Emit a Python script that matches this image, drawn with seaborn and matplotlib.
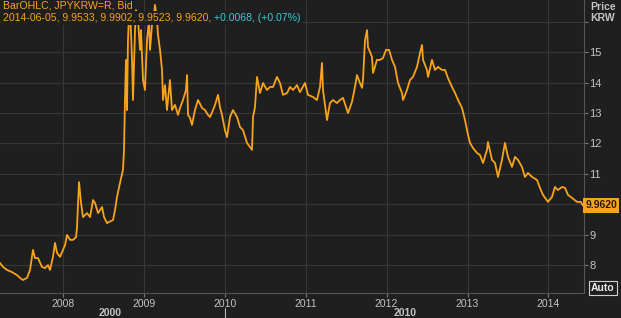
import matplotlib
matplotlib.use("Agg")
import matplotlib.pyplot as plt
from matplotlib.lines import Line2D
import seaborn as sns
import pandas as pd

# ---- data (decimal year, price in KRW per JPY) ----
dates = [
    2007.221, 2007.258, 2007.308, 2007.369, 2007.431, 2007.468, 2007.505, 2007.555, 2007.592, 2007.629,
    2007.654, 2007.691, 2007.740, 2007.777, 2007.814, 2007.839, 2007.876, 2007.901, 2007.926, 2007.963,
    2008.000, 2008.025, 2008.049, 2008.087, 2008.124, 2008.161, 2008.173, 2008.198, 2008.223, 2008.247,
    2008.297, 2008.334, 2008.371, 2008.396, 2008.433, 2008.482, 2008.507, 2008.544, 2008.569, 2008.618,
    2008.643, 2008.667, 2008.704, 2008.741,
    2008.754, 2008.766, 2008.778, 2008.791, 2008.803, 2008.816, 2008.828, 2008.853, 2008.865, 2008.890,
    2008.902, 2008.927, 2008.952, 2008.964, 2008.989, 2009.013, 2009.038, 2009.063, 2009.075, 2009.100,
    2009.125, 2009.137, 2009.162, 2009.174, 2009.199, 2009.224, 2009.236, 2009.261, 2009.285, 2009.322,
    2009.347, 2009.384, 2009.421, 2009.446, 2009.483, 2009.520, 2009.533, 2009.545, 2009.570, 2009.594,
    2009.631, 2009.669, 2009.718, 2009.755, 2009.792, 2009.817, 2009.854, 2009.879, 2009.916, 2009.940,
    2009.965, 2010.002, 2010.027, 2010.064, 2010.101, 2010.151, 2010.188, 2010.225, 2010.274, 2010.311,
    2010.336, 2010.349, 2010.373, 2010.398, 2010.435, 2010.472, 2010.521, 2010.559, 2010.596, 2010.645,
    2010.682, 2010.719, 2010.769, 2010.806, 2010.843, 2010.892, 2010.929, 2010.991, 2011.028, 2011.090,
    2011.139, 2011.177, 2011.201, 2011.214, 2011.263, 2011.300, 2011.337, 2011.387, 2011.424, 2011.461,
    2011.510, 2011.523, 2011.572, 2011.609, 2011.634, 2011.671, 2011.696, 2011.708, 2011.733, 2011.758,
    2011.770, 2011.819, 2011.832, 2011.881, 2011.918, 2011.955, 2011.993, 2012.030, 2012.067, 2012.104,
    2012.141, 2012.190, 2012.203, 2012.252, 2012.289, 2012.326, 2012.376, 2012.413, 2012.438, 2012.450,
    2012.499, 2012.512, 2012.561, 2012.598, 2012.635, 2012.685, 2012.722, 2012.759, 2012.808, 2012.846,
    2012.883, 2012.932, 2012.969, 2013.006, 2013.031, 2013.068, 2013.117, 2013.154, 2013.192, 2013.241,
    2013.253, 2013.303, 2013.340, 2013.377, 2013.426, 2013.463, 2013.500, 2013.550, 2013.587, 2013.624,
    2013.673, 2013.710, 2013.748, 2013.797, 2013.859, 2013.896, 2013.933, 2013.995, 2014.044, 2014.081,
    2014.118, 2014.168, 2014.205, 2014.242, 2014.292, 2014.353, 2014.400, 2014.427,
]
prices = [
    8.07, 7.94, 7.84, 7.77, 7.67, 7.58, 7.51, 7.58, 7.84, 8.50,
    8.23, 8.23, 7.94, 7.90, 8.00, 7.84, 8.27, 8.73, 8.40, 8.27,
    8.50, 8.66, 8.99, 8.83, 8.83, 8.92, 9.25, 10.73, 10.04, 9.58,
    9.71, 9.58, 10.14, 10.04, 9.71, 9.91, 9.58, 9.38, 9.42, 9.48,
    9.81, 10.24, 10.70, 11.13,
    11.79, 13.43, 14.75, 13.10, 15.40, 16.23, 16.46, 14.75, 13.43, 15.73,
    16.39, 16.06, 15.08, 15.73, 14.09, 13.76, 15.40, 16.06, 15.08, 15.90,
    16.23, 16.56, 16.06, 15.57, 15.08, 14.42, 13.43, 13.92, 13.10, 14.09,
    13.10, 13.27, 12.94, 13.17, 13.43, 13.76, 14.25, 12.94, 12.84, 12.61,
    13.10, 13.43, 13.17, 13.10, 12.94, 12.87, 13.10, 13.27, 13.60, 13.20,
    12.94, 12.44, 12.21, 12.87, 13.10, 12.87, 12.54, 12.44, 12.02, 11.88,
    11.79, 12.87, 13.20, 14.19, 13.66, 13.99, 13.76, 13.86, 13.86, 14.19,
    13.99, 13.60, 13.66, 13.86, 13.76, 13.92, 13.69, 13.99, 13.60, 13.53,
    13.43, 13.86, 14.65, 13.76, 12.77, 13.33, 13.43, 13.33, 13.43, 13.50,
    13.10, 13.00, 13.37, 13.86, 14.25, 13.99, 13.83, 14.09, 15.40, 15.73,
    15.17, 14.85, 14.32, 14.75, 14.75, 14.81, 15.08, 15.08, 14.75, 14.52,
    13.99, 13.66, 13.43, 13.76, 14.09, 14.19, 14.52, 14.98, 15.24, 14.75,
    14.42, 14.19, 14.75, 14.42, 14.52, 14.42, 14.42, 14.15, 13.86, 13.66,
    13.43, 13.17, 12.77, 12.28, 12.02, 11.85, 11.69, 11.62, 11.36, 11.79,
    12.05, 11.46, 11.36, 10.90, 11.46, 12.02, 11.56, 11.23, 11.56, 11.46,
    11.23, 10.90, 11.03, 10.90, 10.80, 10.54, 10.31, 10.08, 10.24, 10.57,
    10.47, 10.57, 10.54, 10.31, 10.21, 10.08, 10.08, 9.962,
]
year_ticks = [2008, 2009, 2010, 2011, 2012, 2013, 2014]
price_ticks = [8, 9, 10, 11, 12, 13, 14, 15, 16]
price_labels = ["8", "9", "", "11", "12", "13", "14", "15", ""]
decades = [("2000", 110), ("2010", 405)]
header1 = "BarOHLC, JPYKRW=R, Bid"
header2a = "2014-06-05, 9.9533, 9.9902, 9.9523, 9.9620, "
header2b = "+0.0068, (+0.07%)"
last_label = "9.9620"
last_value = 9.962

# ---- style ----
BG = "#1f1f1f"
GRID = "#373737"
ORANGE = "#f7a31c"
TXT = "#c4c4c4"
CYAN = "#3fc9d4"
FONT = ["Liberation Sans", "DejaVu Sans"]

sns.set_theme(style="dark")
plt.rcParams["font.family"] = FONT

W, H = 621, 318
fig = plt.figure(figsize=(W / 100, H / 100), dpi=100, facecolor=BG)
ax = fig.add_axes([0, 25 / H, 584 / W, 293 / H])
ax.set_facecolor(BG)

df = pd.DataFrame({"t": dates, "v": prices})
sns.lineplot(data=df, x="t", y="v", ax=ax, color=ORANGE, linewidth=1.3,
             estimator=None, sort=False, zorder=3)

ax.set_xlim(2007.221, 2014.44)
ax.set_ylim(7.082, 16.72)
ax.set_xlabel("")
ax.set_ylabel("")

ax.yaxis.tick_right()
ax.set_yticks(price_ticks)
ax.set_yticklabels(price_labels)
ax.set_xticks(year_ticks)
ax.set_xticklabels([str(y) for y in year_ticks])
ax.tick_params(axis="y", colors="#777777", labelcolor=TXT, labelsize=8,
               length=3, width=0.8, pad=1, direction="out", right=True, left=False)
ax.tick_params(axis="x", colors="#777777", labelcolor=TXT, labelsize=7.5,
               length=3, width=0.8, pad=1, direction="out", bottom=True)
ax.grid(True, color=GRID, linewidth=0.8)
for s in ["left", "top"]:
    ax.spines[s].set_visible(False)
for s in ["right", "bottom"]:
    ax.spines[s].set_visible(True)
    ax.spines[s].set_color("#555555")
    ax.spines[s].set_linewidth(0.8)

# header text with dark backing boxes
t1 = fig.text(3 / W, 1 - 1 / H, header1, ha="left", va="top", fontsize=7.6,
              color=ORANGE, bbox=dict(facecolor=BG, edgecolor="none", pad=1.5), zorder=5)
t2 = fig.text(3 / W, 1 - 13 / H, header2a, ha="left", va="top", fontsize=7.6,
              color=ORANGE, bbox=dict(facecolor=BG, edgecolor="none", pad=1.5), zorder=5)
fig.canvas.draw()
bb = t2.get_window_extent(renderer=fig.canvas.get_renderer())
fig.text(bb.x1 / W, 1 - 13 / H, header2b, ha="left", va="top", fontsize=7.6,
         color=CYAN, bbox=dict(facecolor=BG, edgecolor="none", pad=1.5), zorder=5)

# right side labels
fig.text(590 / W, 1 - 2 / H, "Price\nKRW", ha="left", va="top", fontsize=7.5,
         fontweight="bold", color=TXT, linespacing=1.15)
ax.annotate(last_label, xy=(1.0, last_value), xycoords=("axes fraction", "data"),
            xytext=(1.0, 0), textcoords="offset points", ha="left", va="center",
            fontsize=7.5, fontweight="bold", color="#2a1a00",
            bbox=dict(boxstyle="square,pad=0.2", facecolor=ORANGE, edgecolor="none"),
            annotation_clip=False, zorder=6)
fig.text(603 / W, 1 - 288 / H, "Auto", ha="center", va="center", fontsize=7.5,
         fontweight="bold", color="#e8e8e8",
         bbox=dict(boxstyle="square,pad=0.2", facecolor=BG, edgecolor="#d0d0d0", linewidth=0.8))

# decade row
for lab, px in decades:
    fig.text(px / W, 1 - 313 / H, lab, ha="center", va="center", fontsize=7.5,
             fontweight="bold", color=TXT)
fig.add_artist(Line2D([225 / W, 225 / W], [0, 10 / H], color="#bbbbbb", linewidth=0.8))

fig.savefig("out.png", dpi=100, facecolor=BG)
